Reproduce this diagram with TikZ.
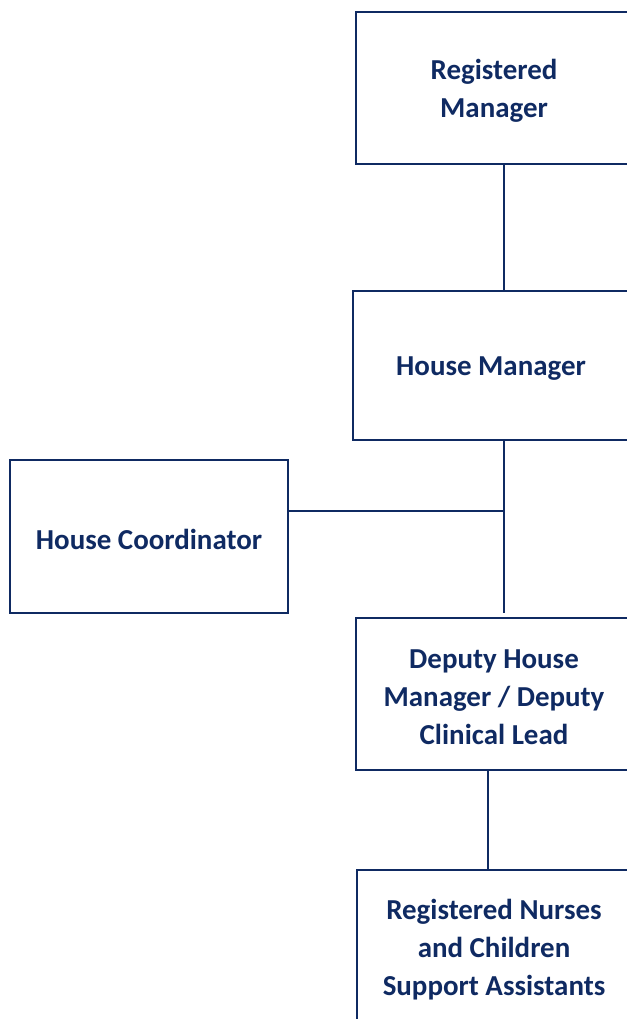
\documentclass[tikz,border=0pt]{standalone}
\usepackage{fontspec}
\setmainfont{Carlito}
\definecolor{navy}{HTML}{0F2A62}
\begin{document}
\begin{tikzpicture}[x=0.75pt,y=-0.75pt,
  orgbox/.style={draw=navy,line width=1.5pt,
    minimum width=276*0.75pt,inner sep=0pt},
  caption/.style={text=navy,align=center,yshift=-3*0.75pt,
    font=\fontsize{21.7pt}{28.5pt}\selectfont\bfseries},
  link/.style={draw=navy,line width=1.1pt}]
\useasboundingbox (0,0) rectangle (626,1019);
% boxes, each with its caption set a little below centre
\node[orgbox,minimum height=152*0.75pt,
  label={[caption]center:Registered\\Manager}] (rm) at (494,88) {};
\node[orgbox,minimum height=149*0.75pt,
  label={[caption]center:House Manager}] (hm) at (491,365.5) {};
\node[orgbox,minimum width=278*0.75pt,minimum height=153*0.75pt,
  label={[caption]center:House Coordinator}] (hc) at (149,536.5) {};
\node[orgbox,minimum height=152*0.75pt,
  label={[caption]center:Deputy House\\Manager / Deputy\\Clinical Lead}] (dm) at (494,694) {};
\node[orgbox,minimum width=274*0.75pt,minimum height=154*0.75pt,
  label={[caption]center:Registered Nurses\\and Children\\Support Assistants}] (rn) at (494,947) {};
% connectors
\coordinate (spine) at (504,0);
\coordinate (tee) at (504,511);
\coordinate (spineend) at (504,613);
\coordinate (lower) at (488,0);
\draw[link] (rm.south -| spine) -- (hm.north -| spine);
\draw[link] (hm.south -| spine) -- (spineend);
\draw[link] (hc.east |- tee) -- (tee);
\draw[link] (dm.south -| lower) -- (rn.north -| lower);
\end{tikzpicture}
\end{document}
